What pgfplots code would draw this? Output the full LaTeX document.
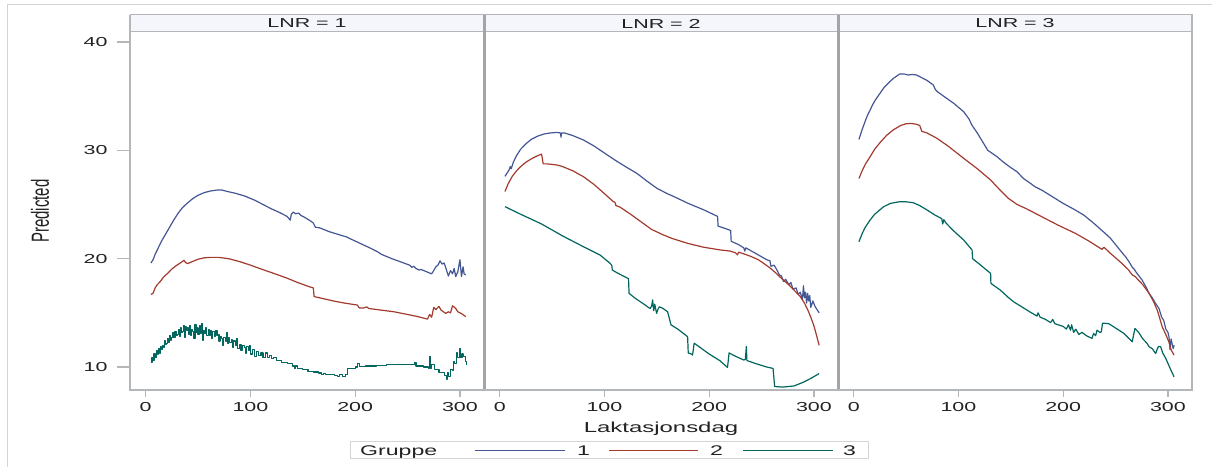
\documentclass[border=0pt]{standalone}
\usepackage{fontspec}
\setmainfont{Liberation Sans}[FakeStretch=1.65]
\newfontfamily\plainsf{Liberation Sans}
\usepackage{graphicx}
\usepackage{pgfplots}
\pgfplotsset{compat=1.18}

\definecolor{gA}{HTML}{445694}
\definecolor{gB}{HTML}{A23A2E}
\definecolor{gC}{HTML}{01665E}
\definecolor{framegray}{HTML}{B4B7BA}
\definecolor{sepgray}{HTML}{A2A5A8}
\definecolor{outergray}{HTML}{D4D4D4}
\definecolor{hdrfill}{HTML}{F4F6FC}
\definecolor{txt}{HTML}{222222}

\pgfplotsset{
  panel/.style={
    scale only axis, width=354bp, height=358bp,
    anchor=south west,
    xmin=-15, xmax=323, ymin=7.88, ymax=40.92,
    clip=false,
    axis line style={draw=none},
    xtick={0,100,200,300},
    ytick=\empty,
    tick align=outside, xtick pos=bottom, ytick pos=left,
    major tick length=7bp,
    tick style={draw=framegray, line width=1.2bp},
    ticklabel style={font=\fontsize{13bp}{15bp}\selectfont, text=txt},
    xticklabel style={yshift=-2bp},
    /pgf/number format/assume math mode=true,
    every axis plot/.append style={line width=1.2bp, mark=none, line join=round},
  },
}
\newcommand{\panelheader}[1]{%
  \draw[draw=framegray, fill=hdrfill, line width=1bp]
    (rel axis cs:0,1) rectangle ([yshift=17bp]rel axis cs:1,1);
  \node[font=\fontsize{13bp}{15bp}\selectfont, text=txt]
    at ([yshift=8.5bp]rel axis cs:0.5,1) {LNR = #1};
}

\begin{document}
\begin{tikzpicture}
\path[use as bounding box] (0,0) rectangle (1212bp,467bp);
% outer frame of the graph
\draw[outergray, line width=1bp] (7bp,0) -- (7bp,462bp) -- (1212bp,462bp);

% shared y axis (ticks and values) on the left of the first panel
\begin{axis}[panel, at={(130bp,77bp)}, xtick=\empty,
  ytick={10,20,30,40}, major tick length=13bp,
  yticklabel style={xshift=-6bp}]
\end{axis}

% ---------------- LNR = 1 ----------------
\begin{axis}[panel, at={(130bp,77bp)}]
\addplot[gA] coordinates {
(5,19.6) (7,19.9) (9,20.4) (12,21.0) (15,21.6) (18,22.1) (21,22.6) (24,23.1)
(27,23.6) (31,24.2) (35,24.7) (40,25.15) (45,25.55) (50,25.85) (56,26.1)
(62,26.25) (68,26.33) (72,26.35) (78,26.2) (85,26.05) (94,25.8) (104,25.4)
(113,24.95) (120,24.6) (128,24.25) (135,23.9) (138,23.55) (139,24.1) (141,24.3)
(143,24.15) (146,24.2) (148,24.0) (152,23.8) (157,23.5) (160,23.3) (162,22.9)
(166,22.85) (175,22.5) (185,22.2) (192,22.0) (195,21.85) (205,21.4) (215,20.95)
(222,20.6) (225,20.4) (235,20.0) (245,19.65) (252,19.4) (254,19.2) (256,19.3)
(258,19.1) (261,18.95) (263,19.0) (268,18.8) (273,18.6) (275,18.9) (277,19.25)
(279,19.4) (281,19.8) (283,19.5) (285,19.6) (287,19.0) (289,18.4) (291,18.9)
(293,18.6) (294.5,19.1) (296,18.35) (298,18.8) (300,19.9) (301.5,18.35)
(303,19.25) (304,18.6) (305.6,18.5)
};
\addplot[gB] coordinates {
(5,16.7) (7,16.8) (9,17.3) (11,17.6) (14,17.9) (17,18.3) (21,18.65) (25,19.05)
(29,19.35) (33,19.6) (36.6,19.85) (38,19.65) (40,19.55) (45,19.75) (50,19.95)
(56,20.08) (62,20.12) (70,20.12) (80,19.98) (90,19.72) (100,19.4) (113,18.95)
(125,18.55) (135,18.2) (145,17.8) (155,17.45) (160,17.3) (160.8,16.5) (170,16.3)
(180,16.08) (190,15.9) (202,15.72) (204,15.45) (208,15.45) (211,15.55) (213,15.4)
(225,15.25) (237,15.1) (250,14.85) (260,14.65) (269,14.42) (271,14.85) (273,14.6)
(275,15.5) (277,15.3) (280,15.6) (282,15.25) (286.5,14.95) (289,15.1) (291,15.0)
(293,15.65) (296,15.4) (298,15.1) (302,14.9) (305.6,14.65)
};
\addplot[gC, const plot] coordinates {
(5,10.4) (6,10.9) (7,10.6) (8,11.2) (9,10.9) (10,11.5) (11,11.2) (12,11.7)
(13,11.3) (14,11.9) (15,11.6) (16,12.0) (17,11.8) (18,12.4) (19,12.1) (20,12.2)
(21,12.6) (22,12.3) (23,12.9) (24,12.5) (25,12.7) (26,13.2) (27,12.7) (28,13.3)
(29,12.9) (30,13.0) (31,13.5) (32,12.8) (33,13.6) (34,13.2) (35,13.3) (36,13.8)
(37,12.7) (38,13.7) (39,13.4) (40,13.6) (41,13.0) (42,13.8) (43,12.9) (44,13.5)
(45,13.3) (46,12.6) (47,13.9) (48,13.2) (49,13.6) (50,13.0) (51,13.8) (52,13.1)
(53,14.0) (54,12.5) (55,13.4) (56,13.1) (57,13.6) (58,12.9) (60,13.5) (61,12.9)
(62,13.4) (63,12.6) (64,13.3) (66,12.8) (67,13.4) (68,12.9) (69,13.0) (70,12.4)
(71,12.8) (72,12.6) (73,12.0) (74,12.7) (76,12.4) (77,13.2) (78,12.2) (79,12.7)
(80,12.3) (82,12.5) (83,11.8) (84,12.4) (86,12.0) (87,12.6) (88,11.7) (90,12.1)
(91,11.5) (92,12.0) (94,11.8) (95,11.3) (96,11.9) (98,11.5) (99,12.0) (100,11.2)
(102,11.6) (104,11.0) (106,11.4) (108,11.1) (110,11.3) (112,10.9) (114,11.3)
(116,10.9) (118,11.1) (120,10.8) (122,10.9) (125,10.6) (130,10.45) (135,10.3)
(140,10.1) (142,9.9) (143,10.1) (145,9.85) (150,9.8) (155,9.6) (160,9.55)
(165,9.45) (168,9.3) (170,9.4) (172,9.3) (175,9.3) (180,9.25) (183,9.15)
(185,9.3) (188,9.15) (191,9.3) (193,9.9) (200,10.0) (202,10.35) (204,10.05)
(210,10.1) (220,10.15) (230,10.2) (240,10.22) (256,10.2) (257,10.4) (258,10.1)
(265,10.0) (270,9.9) (271,10.95) (272,9.9) (273,10.2) (276,9.8) (280,9.5)
(285,9.2) (287,8.9) (288,9.5) (289,9.1) (291,9.8) (293,9.7) (294,10.5) (295,10.3)
(297,11.3) (298,10.9) (300,11.7) (300.5,10.9) (302,11.2) (303,11.0) (305,10.5)
(306,10.2)
};
\panelheader{1}
\end{axis}

% ---------------- LNR = 2 ----------------
\begin{axis}[panel, at={(484bp,77bp)}]
\addplot[gA] coordinates {
(5,27.6) (7,27.9) (9,28.2) (10,28.5) (11,28.3) (13,28.9) (16,29.5) (20,30.1)
(25,30.6) (30,31.0) (36,31.3) (42,31.5) (48,31.6) (55,31.65) (58,31.6)
(58.5,31.2) (59,31.6) (62,31.6) (70,31.35) (80,30.95) (90,30.4) (100,29.75)
(110,29.1) (120,28.5) (131,27.87) (140,27.2) (150,26.5) (160,26.0) (167,25.7)
(180,25.1) (195,24.5) (208,23.9) (208.5,23.0) (215,22.8) (220.5,22.6) (221,21.6)
(228,21.3) (233,21.0) (234,20.7) (235,21.0) (245,20.45) (255,19.9) (258,19.8)
(259,19.3) (262,19.4) (265,18.9) (267,18.5) (269,18.4) (271,17.9) (273,18.1)
(276,17.6) (278,17.8) (280,17.2) (283,17.3) (285,16.7) (287,16.9) (289,16.2)
(290,17.5) (291,16.4) (292,16.9) (293,15.9) (294,16.8) (295,16.1) (296,16.6)
(297,15.5) (299,16.1) (301,15.6) (303,15.3) (305,15.0)
};
\addplot[gB] coordinates {
(5,26.2) (8,26.9) (12,27.6) (16,28.1) (20,28.5) (25,28.9) (30,29.2) (35,29.45)
(40,29.65) (41.5,28.75) (45,28.75) (50,28.7) (55,28.64) (60,28.5) (70,28.1)
(80,27.56) (90,26.85) (100,26.0) (108,25.3) (110,25.2) (111,24.9) (115,24.75)
(125,24.1) (135,23.4) (145,22.7) (156,22.2) (165,21.85) (180,21.4) (195,21.05)
(211,20.8) (220,20.7) (225,20.55) (227,20.35) (228,20.6) (233,20.45) (240,20.2)
(247,19.9) (252,19.57) (258,19.15) (264,18.65) (271,18.0) (276,17.6) (280,17.2)
(284,16.8) (287,16.5) (291,15.9) (294,15.3) (297,14.6) (300,13.8) (302,13.1)
(305,12.0)
};
\addplot[gC] coordinates {
(5,24.8) (20,24.1) (40,23.2) (60,22.1) (80,21.1) (95.9,20.33) (100,20.0)
(105,19.6) (107,19.4) (107.5,18.95) (112,18.7) (118,18.4) (123,18.15)
(123.5,16.8) (130,16.3) (137,15.85) (143.5,15.4) (145,15.6) (146,16.2) (147,15.2)
(148,15.8) (149.8,14.95) (151,15.3) (152.4,15.56) (156,15.4) (160.3,15.1)
(163.5,13.9) (170,13.5) (179.4,12.8) (180,11.3) (183,11.2) (184.1,11.1)
(185.7,12.2) (190,11.9) (200,11.2) (210,10.6) (217.5,9.96) (219,11.3) (225,11.0)
(233,10.65) (234.5,10.7) (235.5,11.9) (236,10.6) (245,10.3) (255,10.0)
(261,9.87) (262.5,8.2) (270,8.15) (281,8.25) (290,8.6) (298,9.0) (305,9.4)
};
\panelheader{2}
\end{axis}

% ---------------- LNR = 3 ----------------
\begin{axis}[panel, at={(838bp,77bp)}]
\addplot[gA] coordinates {
(5,31.0) (8,31.9) (11,32.7) (13,33.2) (15.6,33.7) (18,34.2) (21,34.7) (25,35.25)
(29,35.8) (33,36.2) (38,36.65) (44,37.05) (48,37.05) (52,36.95) (56,37.0)
(60,36.95) (65,36.7) (70,36.45) (76,36.03) (78,35.6) (80,35.4) (88,34.85)
(96,34.3) (105,33.56) (110,32.9) (113,32.3) (118,31.6) (124,30.64) (128,30.0)
(134,29.6) (137,29.4) (143,28.9) (150,28.4) (156,28.02) (162,27.4) (168,27.0)
(173,26.64) (180,26.3) (190,25.7) (200,25.1) (211.6,24.49) (220,24.0)
(230,23.2) (240,22.34) (245,21.9) (250,21.3) (255,20.7) (259.5,20.18)
(263,19.7) (266,19.2) (268,19.0) (270,18.7) (272,18.45) (275.5,18.0)
(279,17.4) (282,16.8) (285,16.4) (288,15.9) (291.5,15.4) (294,14.6) (296,14.3)
(298,13.5) (300,13.2) (301,12.8) (302,11.6) (303,12.6) (305,11.7) (306,12.0)
};
\addplot[gB] coordinates {
(5,27.4) (8,28.1) (11,28.7) (15.6,29.4) (20,30.1) (25,30.7) (31.6,31.4)
(38,31.9) (45,32.3) (50,32.45) (55,32.48) (60,32.4) (63,32.3) (65,31.75)
(70,31.6) (79.6,31.1) (90,30.4) (105,29.26) (118,28.3) (130.7,27.26)
(140,26.3) (147.6,25.57) (156,25.0) (165,24.6) (179.6,23.87) (195,23.1)
(211.6,22.34) (225,21.6) (237,20.86) (239,21.05) (245,20.5) (256,19.57)
(262,19.0) (266,18.5) (269,18.33) (271,18.1) (276,17.6) (282,16.8) (286,16.1)
(290,15.2) (294.6,13.7) (298,13.0) (301,12.3) (303,11.6) (305.8,11.1)
};
\addplot[gC] coordinates {
(5,21.56) (8,22.3) (11,22.9) (15.6,23.56) (20,24.1) (28.5,24.79) (35,25.1)
(44,25.26) (50,25.25) (57,25.16) (63,24.9) (70,24.49) (78,24.0) (84,23.7)
(85,23.2) (86,23.6) (88,23.3) (95,22.6) (105,21.72) (113,20.8) (113.5,20.0)
(120,19.5) (130.7,18.64) (131,17.72) (140,17.1) (147.6,16.42) (153,16.0)
(160.4,15.56) (168,15.1) (175,14.7) (176,15.0) (178,14.6) (183,14.4) (188,14.1)
(190,14.4) (192,14.0) (195,13.9) (200,13.75) (203,13.5) (205,13.9) (207,13.4)
(208,13.9) (210,13.2) (212,13.5) (215,13.0) (218,13.2) (222,12.9) (227.5,12.64)
(229,13.1) (231,12.9) (232.3,13.4) (235,13.2) (236.5,13.25) (237.5,14.05)
(243.5,14.0) (250,13.6) (258,13.1) (265.9,12.33) (268.5,13.56) (272,13.2)
(276,12.6) (280,12.2) (282,11.87) (285,11.7) (288.3,11.25) (290,11.7)
(291,11.9) (293.1,11.87) (295,11.3) (297.9,10.8) (302,9.9) (305.8,9.1)
};
\panelheader{3}
\end{axis}

% panel borders, separators and the shared x axis line
\draw[framegray, line width=1.5bp] (130bp,77bp) -- (130bp,452bp);
\draw[framegray, line width=1.5bp] (1192bp,77bp) -- (1192bp,452bp);
\draw[sepgray, line width=3bp] (484bp,77bp) -- (484bp,452bp);
\draw[sepgray, line width=3bp] (838bp,77bp) -- (838bp,452bp);
\draw[framegray, line width=1.5bp] (129.25bp,77bp) -- (1192.75bp,77bp);

% axis titles
\node[font=\fontsize{14.5bp}{17bp}\selectfont, text=txt] at (661bp,38bp) {Laktasjonsdag};
\node[text=txt] at (40bp,256bp)
  {\scalebox{1.65}[1]{\rotatebox{90}{\plainsf\fontsize{15bp}{17bp}\selectfont Predicted}}};

% legend
\draw[draw=outergray, fill=white, line width=1bp] (350bp,8bp) rectangle (868bp,25bp);
\node[anchor=base west, font=\fontsize{14bp}{16bp}\selectfont, text=txt, inner sep=0pt]
  at (360bp,11.5bp) {Gruppe};
\draw[gA, line width=1bp] (475bp,16.3bp) -- (565bp,16.3bp);
\node[anchor=base west, font=\fontsize{14bp}{16bp}\selectfont, text=txt, inner sep=0pt]
  at (577bp,11.5bp) {1};
\draw[gB, line width=1bp] (609bp,16.3bp) -- (698bp,16.3bp);
\node[anchor=base west, font=\fontsize{14bp}{16bp}\selectfont, text=txt, inner sep=0pt]
  at (710bp,11.5bp) {2};
\draw[gC, line width=1bp] (743bp,16.3bp) -- (833bp,16.3bp);
\node[anchor=base west, font=\fontsize{14bp}{16bp}\selectfont, text=txt, inner sep=0pt]
  at (843bp,11.5bp) {3};
\end{tikzpicture}
\end{document}
